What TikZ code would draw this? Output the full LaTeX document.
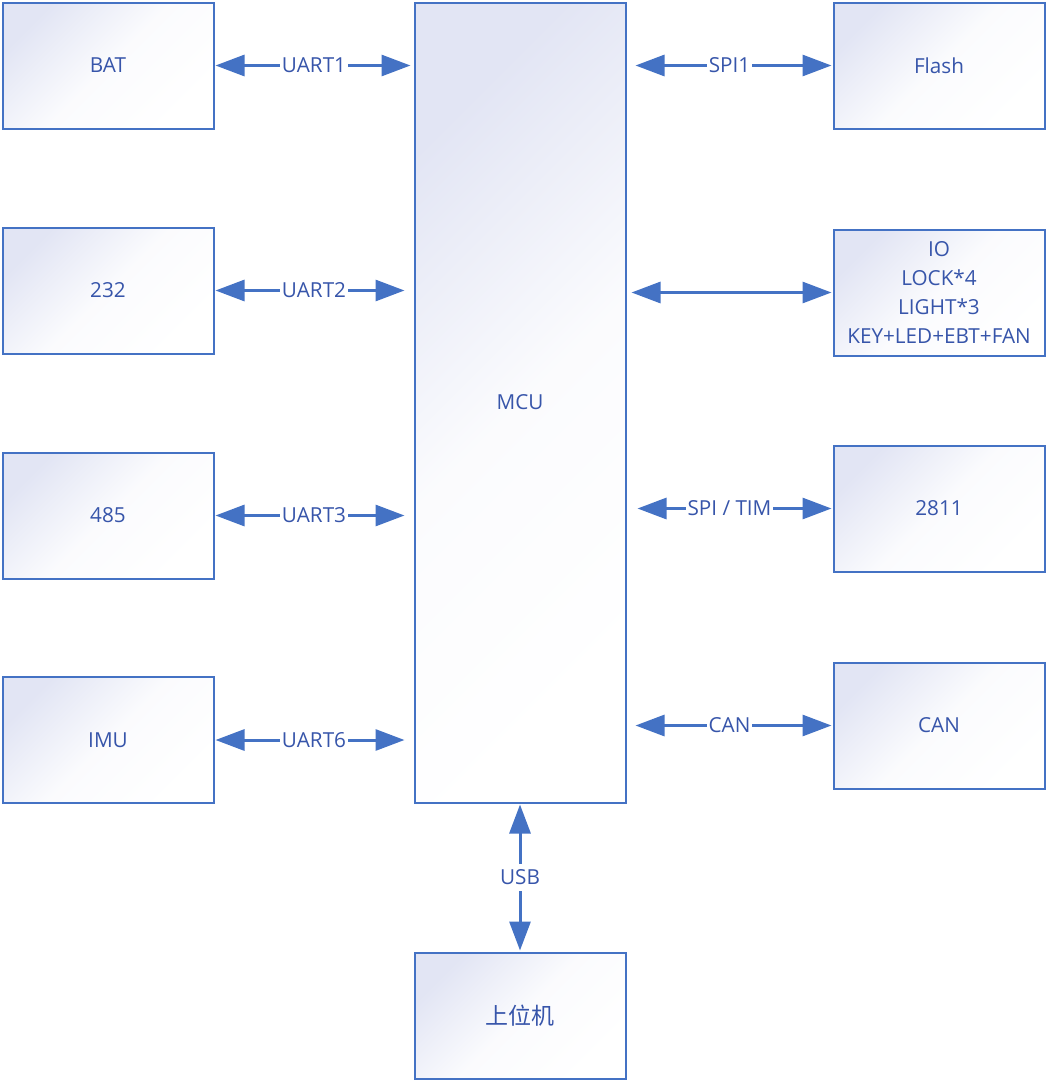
\documentclass[tikz,border=0pt]{standalone}
\usepackage{fontspec}
\setmainfont{Open Sans}
\newfontfamily\cjk{Noto Sans CJK SC}
\usetikzlibrary{arrows.meta}
\definecolor{lineblue}{RGB}{68,114,196}
\definecolor{txtblue}{RGB}{55,85,170}
\definecolor{gradtop}{RGB}{226,229,244}
\tikzset{
  box/.style={draw=lineblue, line width=2pt, minimum width=211pt, minimum height=126pt,
    inner sep=0pt, outer sep=0pt, top color=gradtop, bottom color=white, middle color=white!85!gradtop, shading angle=45,
    text=txtblue, font=\fontsize{20.7}{28.7}\selectfont, align=center},
  conn/.style={lineblue, line width=3pt, {Triangle[length=29pt,width=21pt]}-{Triangle[length=29pt,width=21pt]}},
  lbl/.style={fill=white, inner sep=1.5pt, text=txtblue, font=\fontsize{20.7}{24}\selectfont}
}
\begin{document}
\begin{tikzpicture}[x=1pt,y=-1pt]
\useasboundingbox (0,0) rectangle (1047,1082);
\node[box] (bat) at (108,65.5) {BAT};
\node[box] (b232) at (108,290.5) {232};
\node[box] (b485) at (108,515.5) {485};
\node[box] (imu) at (108,740) {IMU};
\node[box, minimum height=800pt] (mcu) at (520,402.5) {MCU};
\node[box] (flash) at (939,65.5) {Flash};
\node[box] (io) at (939,292.5) {IO\\LOCK*4\\LIGHT*3\\KEY+LED+EBT+FAN};
\node[box] (s2811) at (939,508.5) {2811};
\node[box] (can) at (939,725.5) {CAN};
\node[box] (host) at (520,1015.5) {\cjk\fontsize{23}{28}\selectfont 上位机};

\draw[conn, shorten <=2pt, shorten >=4pt] (bat.east) -- node[lbl] {UART1} (bat.east -| mcu.west);
\draw[conn, shorten <=2pt, shorten >=10pt] (b232.east) -- node[lbl] {UART2} (b232.east -| mcu.west);
\draw[conn, shorten <=2pt, shorten >=10pt] (b485.east) -- node[lbl] {UART3} (b485.east -| mcu.west);
\draw[conn, shorten <=2pt, shorten >=10pt] (imu.east) -- node[lbl] {UART6} (imu.east -| mcu.west);
\draw[conn, shorten <=10pt, shorten >=2pt] (flash.west -| mcu.east) -- node[lbl] {SPI1} (flash.west);
\draw[conn, shorten <=6pt, shorten >=2pt] (io.west -| mcu.east) -- (io.west);
\draw[conn, shorten <=12pt, shorten >=2pt] (s2811.west -| mcu.east) -- node[lbl] {SPI / TIM} (s2811.west);
\draw[conn, shorten <=10pt, shorten >=2pt] (can.west -| mcu.east) -- node[lbl] {CAN} (can.west);
\draw[conn, shorten <=2pt, shorten >=2pt] (mcu.south) -- node[lbl, inner ysep=6pt] {USB} (host.north);
\end{tikzpicture}
\end{document}
